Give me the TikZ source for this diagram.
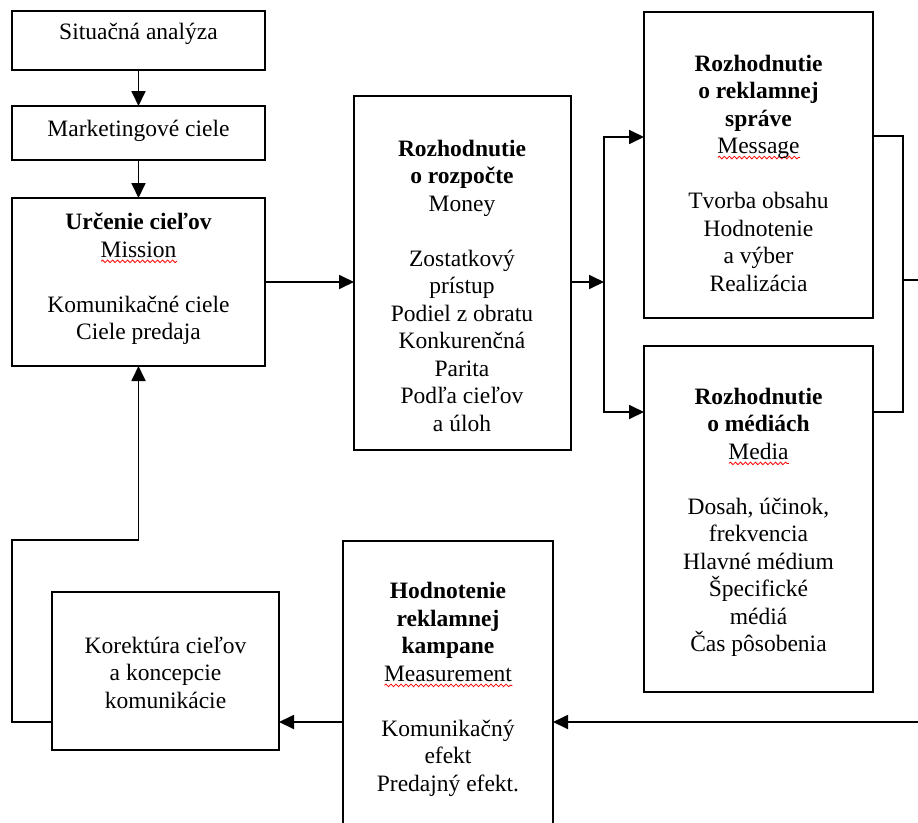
\documentclass[tikz,border=0pt]{standalone}
\usepackage{fontspec}
\setmainfont{Liberation Serif}
\usetikzlibrary{arrows.meta,decorations.pathmorphing}
\newbox\wvbox
\newcommand\redwave[1]{\setbox\wvbox=\hbox{#1}\rlap{\tikz[baseline=0pt,x=1pt,y=1pt]{\draw[red,line width=0.8pt,decorate,decoration={snake,amplitude=1.3pt,segment length=5pt}] (0pt,-4pt) -- (\the\wd\wvbox,-4pt);}}\box\wvbox}
\tikzset{
  box/.style={draw=black, line width=1.8pt, rectangle, inner sep=0pt, outer sep=0pt, fill=white},
  txt/.style={align=center, inner sep=0pt, font=\fontsize{23.5}{27.5}\selectfont, text=black},
  conn/.style={draw=black, line width=1.8pt},
  arr/.style={conn, -{Triangle[length=15pt,width=14pt]}}
}
\begin{document}
\begin{tikzpicture}[x={(1pt,0)}, y={(0,-1pt)}]
\useasboundingbox (0,0) rectangle (918,822);
\clip (0,0) rectangle (918,822);
% boxes
\node[box, minimum width=253pt, minimum height=59pt] (b1) at (138.5,40.5) {};
\node[box, minimum width=253pt, minimum height=54pt] (b2) at (138.5,133) {};
\node[box, minimum width=253pt, minimum height=168pt] (b3) at (138.5,282) {};
\node[box, minimum width=217pt, minimum height=354pt] (budget) at (462.5,273) {};
\node[box, minimum width=229pt, minimum height=306pt] (msg) at (758.5,165) {};
\node[box, minimum width=229pt, minimum height=346pt] (media) at (758.5,519) {};
\node[box, minimum width=210pt, minimum height=362pt] (eval) at (448,722) {};
\node[box, minimum width=227pt, minimum height=158pt] (kor) at (165.5,671) {};
% texts
\node[txt] (t1) at (138.5,34) {Situačná analýza};
\node[txt] (t2) at (138.5,131) {Marketingové ciele};
\node[txt] (t3) at (138.5,279) {\textbf{Určenie cieľov}\\\redwave{Mission}\\[27.5pt]Komunikačné ciele\\Ciele predaja};
\node[txt] (tbudget) at (462,285.5) {\textbf{Rozhodnutie}\\\textbf{o rozpočte}\\Money\\[27.5pt]Zostatkový\\prístup\\Podiel z obratu\\Konkurenčná\\Parita\\Podľa cieľov\\a úloh};
\node[txt] (tmsg) at (758.5,173) {\textbf{Rozhodnutie}\\\textbf{o reklamnej}\\\textbf{správe}\\\redwave{Message}\\[27.5pt]Tvorba obsahu\\Hodnotenie\\a výber\\Realizácia};
\node[txt] (tmedia) at (758.5,522.5) {\textbf{Rozhodnutie}\\\textbf{o médiách}\\\redwave{Media}\\[27.5pt]Dosah, účinok,\\frekvencia\\Hlavné médium\\Špecifické\\médiá\\Čas pôsobenia};
\node[txt] (teval) at (448,689.5) {\textbf{Hodnotenie}\\\textbf{reklamnej}\\\textbf{kampane}\\\redwave{Measurement}\\[27.5pt]Komunikačný\\efekt\\Predajný efekt.};
\node[txt] (tkor) at (165.5,672.5) {Korektúra cieľov\\a koncepcie\\komunikácie};
% helper coordinates
\coordinate (split) at (604,282);
\coordinate (join) at (903,280);
\coordinate (outA) at (935,280);
\coordinate (loop) at (12,540);
% connectors
\draw[arr] (b1.south) -- (b2.north);
\draw[arr] (b2.south) -- (b3.north);
\draw[arr] (b3.east) -- (b3.east -| budget.west);
\draw[arr] (budget.east |- b3.east) -- (split);
\draw[arr] (split) |- ([yshift=28pt]msg.west);
\draw[arr] (split) |- ([yshift=107pt]media.west);
\draw[conn] ([yshift=29pt]msg.east) -| (join);
\draw[conn] ([yshift=107pt]media.east) -| (join);
\draw[arr] (join) -- (outA) |- (eval.east);
\draw[arr] (eval.west) -- (eval.west -| kor.east);
\draw[arr] (kor.west |- eval.west) -| (loop) -| (b3.south);
\end{tikzpicture}
\end{document}
